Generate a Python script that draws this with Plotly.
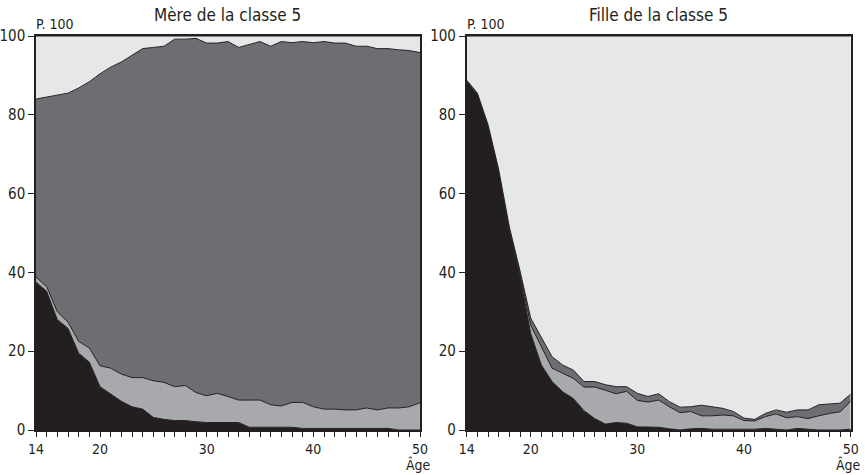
import plotly.graph_objects as go

ages = list(range(14, 51))

# Left panel: "Mère de la classe 5" (layer shares, %)
mere_noir = [37.5, 35.2, 28.0, 25.8, 19.5, 17.2, 11.0, 9.1, 7.3, 5.9, 5.3, 3.2, 2.7, 2.4, 2.4, 2.1, 1.9, 1.9, 1.9, 1.9,
             0.7, 0.7, 0.7, 0.7, 0.7, 0.4, 0.4, 0.4, 0.4, 0.4, 0.4, 0.4, 0.4, 0.4, 0.0, 0.0, 0.0]
mere_gris_clair = [1.3, 1.2, 2.0, 1.6, 3.0, 3.6, 5.3, 6.6, 6.9, 7.4, 8.0, 9.3, 9.4, 8.6, 8.9, 7.4, 6.8, 7.4, 6.6, 5.7,
                   6.9, 6.9, 5.7, 5.4, 6.3, 6.6, 5.5, 4.9, 4.9, 4.7, 4.7, 5.2, 4.7, 5.2, 5.6, 5.9, 6.9]
mere_gris_fonce = [45.2, 48.1, 55.1, 58.1, 64.3, 67.6, 74.1, 76.4, 79.2, 81.8, 83.5, 84.6, 85.3, 88.2, 87.9, 89.9, 89.5,
                   88.9, 90.1, 89.5, 90.2, 91.0, 91.0, 92.5, 91.3, 91.6, 92.4, 93.3, 92.9, 93.1, 92.3, 91.8, 91.7, 91.2,
                   90.9, 90.4, 88.9]
mere_tres_clair = [16.0, 15.5, 14.9, 14.5, 13.2, 11.6, 9.6, 7.9, 6.6, 4.9, 3.2, 2.9, 2.6, 0.8, 0.8, 0.6, 1.8, 1.8, 1.4,
                   2.9, 2.2, 1.4, 2.6, 1.4, 1.7, 1.4, 1.7, 1.4, 1.8, 1.8, 2.6, 2.6, 3.2, 3.2, 3.5, 3.7, 4.2]

# Right panel: "Fille de la classe 5" (layer shares, %)
fille_noir = [88.4, 85.1, 77.0, 65.5, 50.5, 39.0, 24.5, 16.5, 12.3, 9.7, 8.0, 4.9, 2.9, 1.5, 1.9, 1.7, 0.8, 0.8, 0.7,
              0.3, 0.0, 0.3, 0.4, 0.2, 0.2, 0.2, 0.2, 0.2, 0.4, 0.2, 0.0, 0.4, 0.2, 0.0, 0.0, 0.0, 0.2]
fille_gris_clair = [0.2, 0.2, 0.2, 0.3, 0.5, 0.7, 2.1, 4.7, 3.4, 4.7, 5.1, 6.0, 8.0, 8.6, 7.3, 8.1, 6.7, 6.3, 6.9, 5.6,
                    4.4, 4.4, 3.2, 3.4, 3.6, 3.4, 2.2, 2.1, 3.0, 3.9, 3.1, 3.0, 2.7, 3.6, 4.2, 4.6, 7.1]
fille_gris_fonce = [0.2, 0.2, 0.3, 0.3, 0.5, 0.7, 1.8, 2.3, 2.9, 2.1, 2.1, 1.4, 1.4, 1.4, 1.8, 1.2, 1.8, 1.4, 1.6, 1.3,
                    1.4, 1.2, 2.7, 2.3, 1.7, 1.1, 0.6, 0.4, 0.8, 1.0, 1.4, 1.7, 2.2, 2.8, 2.4, 2.2, 1.8]
fille_tres_clair = [11.2, 14.5, 22.5, 33.9, 48.5, 59.6, 71.6, 76.5, 81.4, 83.5, 84.8, 87.7, 87.7, 88.5, 89.0, 89.0, 90.7,
                    91.5, 90.8, 92.8, 94.2, 94.1, 93.7, 94.1, 94.5, 95.3, 97.0, 97.3, 95.8, 94.9, 95.5, 94.9, 94.9, 93.6,
                    93.4, 93.2, 90.9]

x_ticks = [14, 20, 30, 40, 50]
y_ticks = [0, 20, 40, 60, 80, 100]

colors = ["#231f20", "#a7a9ac", "#6d6e71", "#e6e7e8"]
edge = "#231f20"
FONT = "Liberation Sans Narrow, DejaVu Sans Condensed, Arial Narrow, sans-serif"

fig = go.Figure()

panels = [
    ("x", "y", "left", [mere_noir, mere_gris_clair, mere_gris_fonce, mere_tres_clair]),
    ("x2", "y2", "right", [fille_noir, fille_gris_clair, fille_gris_fonce, fille_tres_clair]),
]
for xa, ya, grp, layers in panels:
    for vals, col in zip(layers, colors):
        fig.add_trace(go.Scatter(
            x=ages, y=vals, xaxis=xa, yaxis=ya, stackgroup=grp, mode="lines",
            line=dict(color=edge, width=1), fillcolor=col, showlegend=False,
            hoverinfo="skip",
        ))

xdom1 = [36 / 865, 420 / 865]
xdom2 = [466.7 / 865, 850.7 / 865]
ydom = [1 - 430 / 475, 1 - 36 / 475]

axis_common = dict(
    showline=True, linecolor=edge, linewidth=1.5, mirror=True, showgrid=False, zeroline=False,
    ticks="outside", tickwidth=1, tickcolor=edge, automargin=False,
)
xcommon = dict(axis_common, range=[14, 50], tickvals=x_ticks, ticklen=5,
               tickfont=dict(family=FONT, size=14, color=edge),
               minor=dict(ticks="outside", dtick=1, tick0=14, ticklen=5, tickwidth=1, tickcolor=edge))
ycommon = dict(axis_common, range=[0, 100], tickvals=y_ticks, ticklen=6,
               tickfont=dict(family=FONT, size=15, color=edge))

fig.update_layout(
    width=865, height=475,
    margin=dict(l=0, r=0, t=0, b=0),
    paper_bgcolor="white", plot_bgcolor="white",
    xaxis=dict(xcommon, domain=xdom1, anchor="y"),
    yaxis=dict(ycommon, domain=ydom, anchor="x"),
    xaxis2=dict(xcommon, domain=xdom2, anchor="y2"),
    yaxis2=dict(ycommon, domain=ydom, anchor="x2"),
    font=dict(family=FONT, color=edge),
)

ann = []
for dom, title in [(xdom1, "Mère de la classe 5"), (xdom2, "Fille de la classe 5")]:
    ann.append(dict(text=title, x=(dom[0] + dom[1]) / 2, y=1 - 15 / 475, xref="paper", yref="paper",
                    xanchor="center", yanchor="middle", showarrow=False,
                    font=dict(family=FONT, size=17, color=edge)))
    ann.append(dict(text="P. 100", x=dom[0] - 2 / 865, y=1 - 34 / 475, xref="paper", yref="paper",
                    xanchor="left", yanchor="bottom", showarrow=False,
                    font=dict(family=FONT, size=14, color=edge)))
    ann.append(dict(text="Âge", x=dom[1] - 2 / 865, y=0, xref="paper", yref="paper",
                    xanchor="center", yanchor="bottom", showarrow=False,
                    font=dict(family=FONT, size=14, color=edge)))
fig.update_layout(annotations=ann)

fig.write_html("out.html", config={"displayModeBar": False},
               post_script="document.body.style.margin='0';document.body.style.overflow='hidden';")
